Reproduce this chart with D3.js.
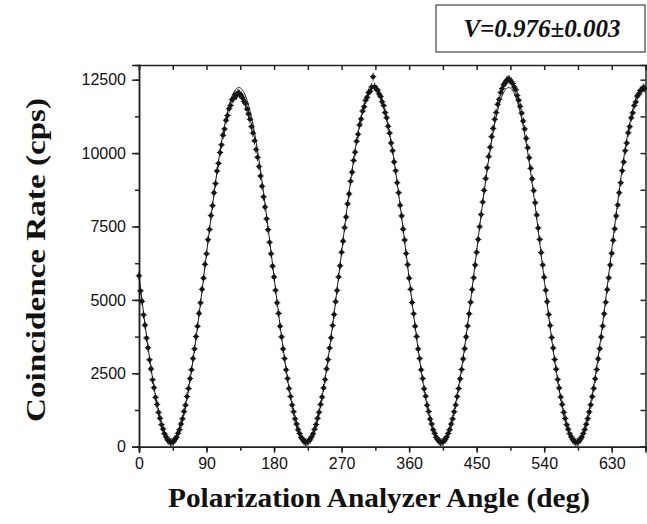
<!DOCTYPE html>
<html>
<head>
<meta charset="utf-8">
<title>Coincidence rate vs polarization analyzer angle</title>
<script src="https://cdn.jsdelivr.net/npm/d3@7"></script>
<style>
body { margin: 0; background: #fff; }
.axis text { font-family: "Liberation Sans", Arial, sans-serif; font-size: 16px; fill: #111; }
.axis path, .axis line { stroke: #222; stroke-width: 1.5px; }
.label { font-family: "Liberation Serif", "Times New Roman", serif; font-weight: bold; fill: #111; }
</style>
</head>
<body>
<svg width="647" height="524"></svg>
<script>
// measured coincidence rate (cps), one reading every 2 deg starting at 0 deg
const angleStep = 2;
const rates = [
  5820, 5310, 4950, 4490, 4140, 3700, 3370, 2960, 2650, 2280,
  2010, 1680, 1440, 1170, 970, 750, 600, 440, 335, 235,
  190, 150, 160, 178, 250, 320, 455, 580, 770, 950,
  1195, 1415, 1710, 1980, 2320, 2620, 3000, 3330, 3750, 4100,
  4540, 4900, 5360, 5740, 6210, 6570, 7050, 7400, 7870, 8210,
  8650, 8960, 9390, 9650, 10020, 10280, 10610, 10820, 11120, 11280,
  11510, 11620, 11820, 11860, 11990, 11950, 12050, 12020, 11980, 11880,
  11760, 11690, 11500, 11330, 11150, 10900, 10680, 10420, 10120, 9860,
  9540, 9220, 8870, 8510, 8160, 7760, 7390, 6960, 6570, 6150,
  // 180 deg
  5780, 5330, 4900, 4540, 4100, 3740, 3330, 3000, 2620, 2320,
  1980, 1710, 1420, 1190, 950, 770, 580, 450, 320, 250,
  175, 150, 158, 190, 235, 335, 440, 595, 755, 965,
  1175, 1440, 1690, 2000, 2290, 2650, 2970, 3360, 3710, 4130,
  4500, 4940, 5320, 5780, 6160, 6620, 7000, 7460, 7820, 8270,
  8610, 9040, 9350, 9750, 10030, 10400, 10640, 10960, 11160, 11430,
  11580, 11800, 11900, 12060, 12110, 12250, 12600, 12260, 12190, 12140,
  12010, 11930, 11750, 11620, 11380, 11200, 10910, 10680, 10340, 10080,
  9700, 9400, 8990, 8650, 8220, 7860, 7410, 7040, 6580, 6200,
  // 360 deg
  5740, 5360, 4910, 4530, 4100, 3750, 3330, 3000, 2620, 2320,
  1970, 1720, 1410, 1200, 940, 775, 575, 455, 320, 250,
  180, 148, 160, 185, 240, 330, 450, 580, 770, 950,
  1190, 1420, 1710, 1980, 2310, 2630, 2990, 3340, 3740, 4110,
  4530, 4920, 5350, 5750, 6190, 6620, 7060, 7490, 7910, 8330,
  8730, 9130, 9500, 9880, 10200, 10560, 10840, 11150, 11380, 11660,
  11830, 12060, 12200, 12330, 12390, 12480, 12520, 12500, 12440, 12370,
  12250, 12160, 11960, 11800, 11590, 11360, 11090, 10820, 10500, 10180,
  9840, 9480, 9120, 8720, 8310, 7890, 7450, 7060, 6610, 6190,
  // 540 deg
  5770, 5330, 4940, 4500, 4130, 3720, 3360, 2970, 2640, 2290,
  2000, 1690, 1440, 1170, 960, 750, 595, 440, 335, 238,
  188, 152, 156, 180, 248, 325, 450, 585, 765, 955,
  1185, 1425, 1705, 1985, 2310, 2630, 2990, 3340, 3735, 4110,
  4525, 4920, 5350, 5750, 6190, 6590, 7030, 7420, 7860, 8230,
  8650, 8990, 9400, 9700, 10080, 10340, 10690, 10900, 11200, 11370,
  11620, 11740, 11940, 12010, 12130, 12150, 12230, 12200
];

// fitted curve R = R0 * (1 - V cos(2*pi*(theta - thetaMin)/P))
const fitMean = 6190;
const fitVisibility = 0.976;
const fitPeriod = 179.8;
const fitMinAngle = 43.2;

const xTicks = [0, 90, 180, 270, 360, 450, 540, 630];
const yTicks = [0, 2500, 5000, 7500, 10000, 12500];
const xDomain = [0, 675];
const yDomain = [0, 13000];
const legendText = "V=0.976\u00b10.003";

const svg = d3.select("svg");
const plot = {left: 139, right: 645.5, top: 65, bottom: 446.7};

const x = d3.scaleLinear().domain(xDomain).range([plot.left, plot.right]);
const y = d3.scaleLinear().domain(yDomain).range([plot.bottom, plot.top]);

const xMinor = d3.range(xDomain[0], xDomain[1] + 1, 45);
const yMinor = d3.range(yDomain[0], yDomain[1] + 1, 1250);

// frame: top and right, ticks pointing inwards
svg.append("g").attr("class", "axis")
  .attr("transform", "translate(0," + plot.top + ")")
  .call(d3.axisBottom(x).tickValues(xMinor).tickSize(5).tickFormat(""));
svg.append("g").attr("class", "axis")
  .attr("transform", "translate(" + plot.right + ",0)")
  .call(d3.axisLeft(y).tickValues(yMinor).tickSize(5).tickFormat(""));

// minor ticks outside
svg.append("g").attr("class", "axis")
  .attr("transform", "translate(0," + plot.bottom + ")")
  .call(d3.axisBottom(x).tickValues(xMinor).tickSize(4).tickFormat(""));
svg.append("g").attr("class", "axis")
  .attr("transform", "translate(" + plot.left + ",0)")
  .call(d3.axisLeft(y).tickValues(yMinor).tickSize(4).tickFormat(""));

// major ticks with labels
svg.append("g").attr("class", "axis")
  .attr("transform", "translate(0," + plot.bottom + ")")
  .call(d3.axisBottom(x).tickValues(xTicks).tickSize(6).tickPadding(5).tickFormat(d3.format("d")));
svg.append("g").attr("class", "axis")
  .attr("transform", "translate(" + plot.left + ",0)")
  .call(d3.axisLeft(y).tickValues(yTicks).tickSize(7).tickPadding(6).tickFormat(d3.format("d")));

// fit line
const fitAngles = d3.range(xDomain[0], xDomain[1] + 0.25, 0.5);
const fit = a => fitMean * (1 - fitVisibility * Math.cos(2 * Math.PI * (a - fitMinAngle) / fitPeriod));
svg.append("path")
  .datum(fitAngles)
  .attr("fill", "none")
  .attr("stroke", "#111")
  .attr("stroke-width", 1)
  .attr("d", d3.line().x(a => x(a)).y(a => y(fit(a))));

// data points with error crosses
const data = rates.map((r, i) => ({angle: i * angleStep, rate: r}));
const pts = svg.append("g").attr("fill", "#161616").attr("stroke", "#161616");
const pt = pts.selectAll("g").data(data).join("g")
  .attr("transform", d => "translate(" + x(d.angle) + "," + y(d.rate) + ")");
pt.append("circle").attr("r", 2.3).attr("stroke", "none");
pt.append("line").attr("y1", -4).attr("y2", 4).attr("stroke-width", 1);
pt.append("line").attr("x1", -3.2).attr("x2", 3.2).attr("stroke-width", 1);

// axis titles
svg.append("text").attr("class", "label")
  .attr("x", 379).attr("y", 507)
  .attr("text-anchor", "middle")
  .attr("font-size", 27)
  .attr("textLength", 422).attr("lengthAdjust", "spacingAndGlyphs")
  .text("Polarization Analyzer Angle (deg)");
svg.append("text").attr("class", "label")
  .attr("transform", "translate(45,260) rotate(-90)")
  .attr("text-anchor", "middle")
  .attr("font-size", 27)
  .attr("textLength", 324).attr("lengthAdjust", "spacingAndGlyphs")
  .text("Coincidence Rate (cps)");

// visibility box
svg.append("rect")
  .attr("x", 436).attr("y", 5).attr("width", 209).attr("height", 47)
  .attr("fill", "#fff").attr("stroke", "#444").attr("stroke-width", 1.2);
svg.append("text").attr("class", "label")
  .attr("x", 542).attr("y", 37)
  .attr("text-anchor", "middle")
  .attr("font-size", 25)
  .attr("font-style", "italic")
  .text(legendText);
</script>
</body>
</html>
